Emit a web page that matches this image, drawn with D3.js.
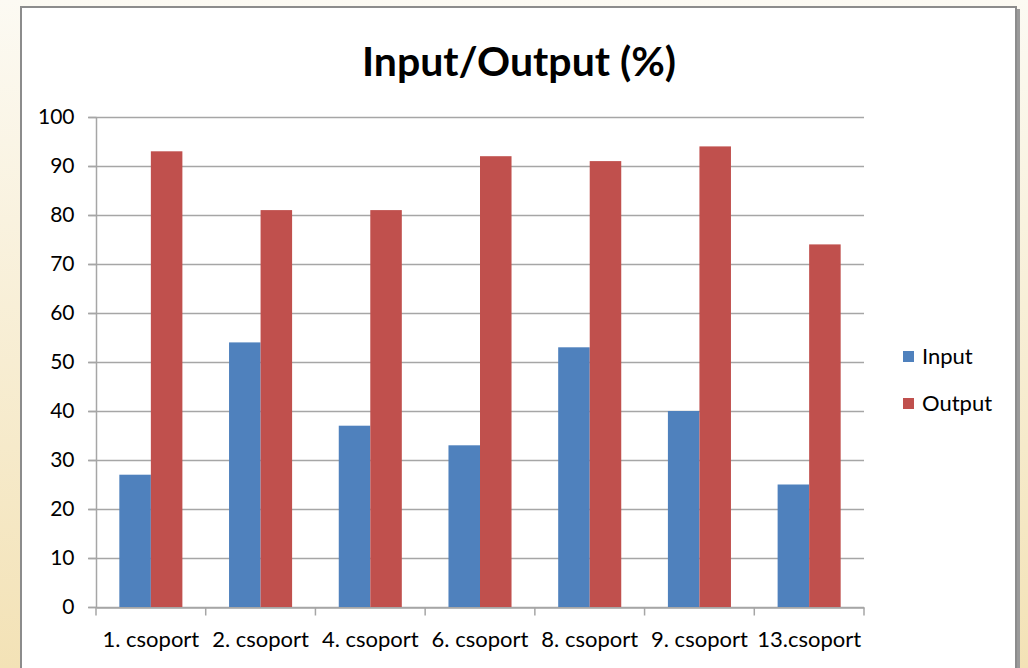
<!DOCTYPE html>
<html>
<head>
<meta charset="utf-8">
<script src="https://cdn.jsdelivr.net/npm/d3@7"></script>
<style>
  body { margin: 0; }
  svg { display: block; }
</style>
</head>
<body>
<div id="chart"></div>
<script>
var categories = ["1. csoport", "2. csoport", "4. csoport", "6. csoport", "8. csoport", "9. csoport", "13.csoport"];
var inputValues = [27, 54, 37, 33, 53, 40, 25];
var outputValues = [93, 81, 81, 92, 91, 94, 74];
var seriesNames = ["Input", "Output"];
var seriesColors = ["#4f81bd", "#c0504d"];
var yTicks = [0, 10, 20, 30, 40, 50, 60, 70, 80, 90, 100];

var chart = {
    w: 1028,
    h: 668,
    plot: { left: 96, right: 864, top: 117, bottom: 607 },
    font: "Lato, 'Open Sans', sans-serif"
};

function gen_chart() {
    var svg = d3.select("#chart").append("svg")
        .attr("width", chart.w)
        .attr("height", chart.h);

    var defs = svg.append("defs");
    var grad = defs.append("linearGradient")
        .attr("id", "bg")
        .attr("x1", 0).attr("y1", 0).attr("x2", 0).attr("y2", 1);
    grad.append("stop").attr("offset", "0%").attr("stop-color", "#fcfaf3");
    grad.append("stop").attr("offset", "100%").attr("stop-color", "#f3e2b6");

    svg.append("rect").attr("width", chart.w).attr("height", chart.h).attr("fill", "url(#bg)");

    // frame shadow + frame
    svg.append("rect")
        .attr("x", 23).attr("y", 9).attr("width", 997).attr("height", 680)
        .attr("fill", "#9a9a9a");
    svg.append("rect")
        .attr("x", 21).attr("y", 7).attr("width", 995).attr("height", 680)
        .attr("fill", "#ffffff")
        .attr("stroke", "#8c8c8c")
        .attr("stroke-width", 2);

    svg.append("text")
        .attr("x", 519).attr("y", 76)
        .attr("text-anchor", "middle")
        .attr("font-family", chart.font)
        .attr("font-weight", "bold")
        .attr("font-size", 41)
        .attr("fill", "#000")
        .text("Input/Output (%)");

    var x = d3.scaleBand()
        .domain(categories)
        .range([chart.plot.left, chart.plot.right]);

    var xs = d3.scaleBand()
        .domain(seriesNames)
        .range([0, x.bandwidth()])
        .paddingOuter(0.74);

    var y = d3.scaleLinear()
        .domain([0, 100])
        .range([chart.plot.bottom, chart.plot.top]);

    // gridlines
    svg.append("g")
        .selectAll("line")
        .data(yTicks)
        .enter().append("line")
        .attr("x1", chart.plot.left - 8)
        .attr("x2", chart.plot.right)
        .attr("y1", function (d) { return Math.round(y(d)) + 0.5; })
        .attr("y2", function (d) { return Math.round(y(d)) + 0.5; })
        .attr("stroke", "#a6a6a6")
        .attr("stroke-width", 1.5);

    var data = categories.map(function (c, i) {
        return { cat: c, vals: [inputValues[i], outputValues[i]] };
    });

    var groups = svg.append("g")
        .selectAll("g")
        .data(data)
        .enter().append("g")
        .attr("transform", function (d) { return "translate(" + x(d.cat) + ",0)"; });

    groups.selectAll("rect")
        .data(function (d) {
            return d.vals.map(function (v, i) { return { s: seriesNames[i], v: v, c: seriesColors[i] }; });
        })
        .enter().append("rect")
        .attr("x", function (d) { return xs(d.s); })
        .attr("width", xs.bandwidth())
        .attr("y", function (d) { return y(d.v); })
        .attr("height", function (d) { return y(0) - y(d.v); })
        .attr("fill", function (d) { return d.c; });

    // y axis
    var yAxis = svg.append("g")
        .attr("transform", "translate(" + (chart.plot.left + 0.5) + ",0)")
        .call(d3.axisLeft(y).tickValues(yTicks).tickSize(8).tickPadding(14));
    yAxis.select(".domain").attr("stroke", "#a6a6a6").attr("stroke-width", 1.5)
        .attr("d", "M0," + chart.plot.top + "V" + chart.plot.bottom);
    yAxis.selectAll(".tick line").attr("stroke", "#a6a6a6").attr("stroke-width", 1.5);
    yAxis.selectAll("text")
        .attr("font-family", chart.font)
        .attr("font-size", 21)
        .attr("fill", "#000");

    // x axis
    var xAxis = svg.append("g")
        .attr("transform", "translate(0," + (chart.plot.bottom + 0.5) + ")")
        .call(d3.axisBottom(x).tickSize(0).tickPadding(24));
    xAxis.select(".domain").attr("stroke", "#a6a6a6").attr("stroke-width", 1.5);
    xAxis.selectAll("text")
        .attr("font-family", chart.font)
        .attr("font-size", 22)
        .attr("fill", "#000");

    var bounds = categories.map(function (c) { return x(c); }).concat([chart.plot.right]);
    xAxis.selectAll(".sep")
        .data(bounds)
        .enter().append("line")
        .attr("class", "sep")
        .attr("x1", function (d) { return d; })
        .attr("x2", function (d) { return d; })
        .attr("y1", 0).attr("y2", 8)
        .attr("stroke", "#a6a6a6")
        .attr("stroke-width", 1.5);

    // legend
    var legend = svg.append("g")
        .selectAll("g")
        .data(seriesNames)
        .enter().append("g")
        .attr("transform", function (d, i) { return "translate(903," + (351 + i * 47) + ")"; });
    legend.append("rect")
        .attr("width", 11).attr("height", 11)
        .attr("fill", function (d, i) { return seriesColors[i]; });
    legend.append("text")
        .attr("x", 19).attr("y", 13)
        .attr("font-family", chart.font)
        .attr("font-size", 22)
        .attr("fill", "#000")
        .text(function (d) { return d; });
}

gen_chart();
</script>
</body>
</html>
